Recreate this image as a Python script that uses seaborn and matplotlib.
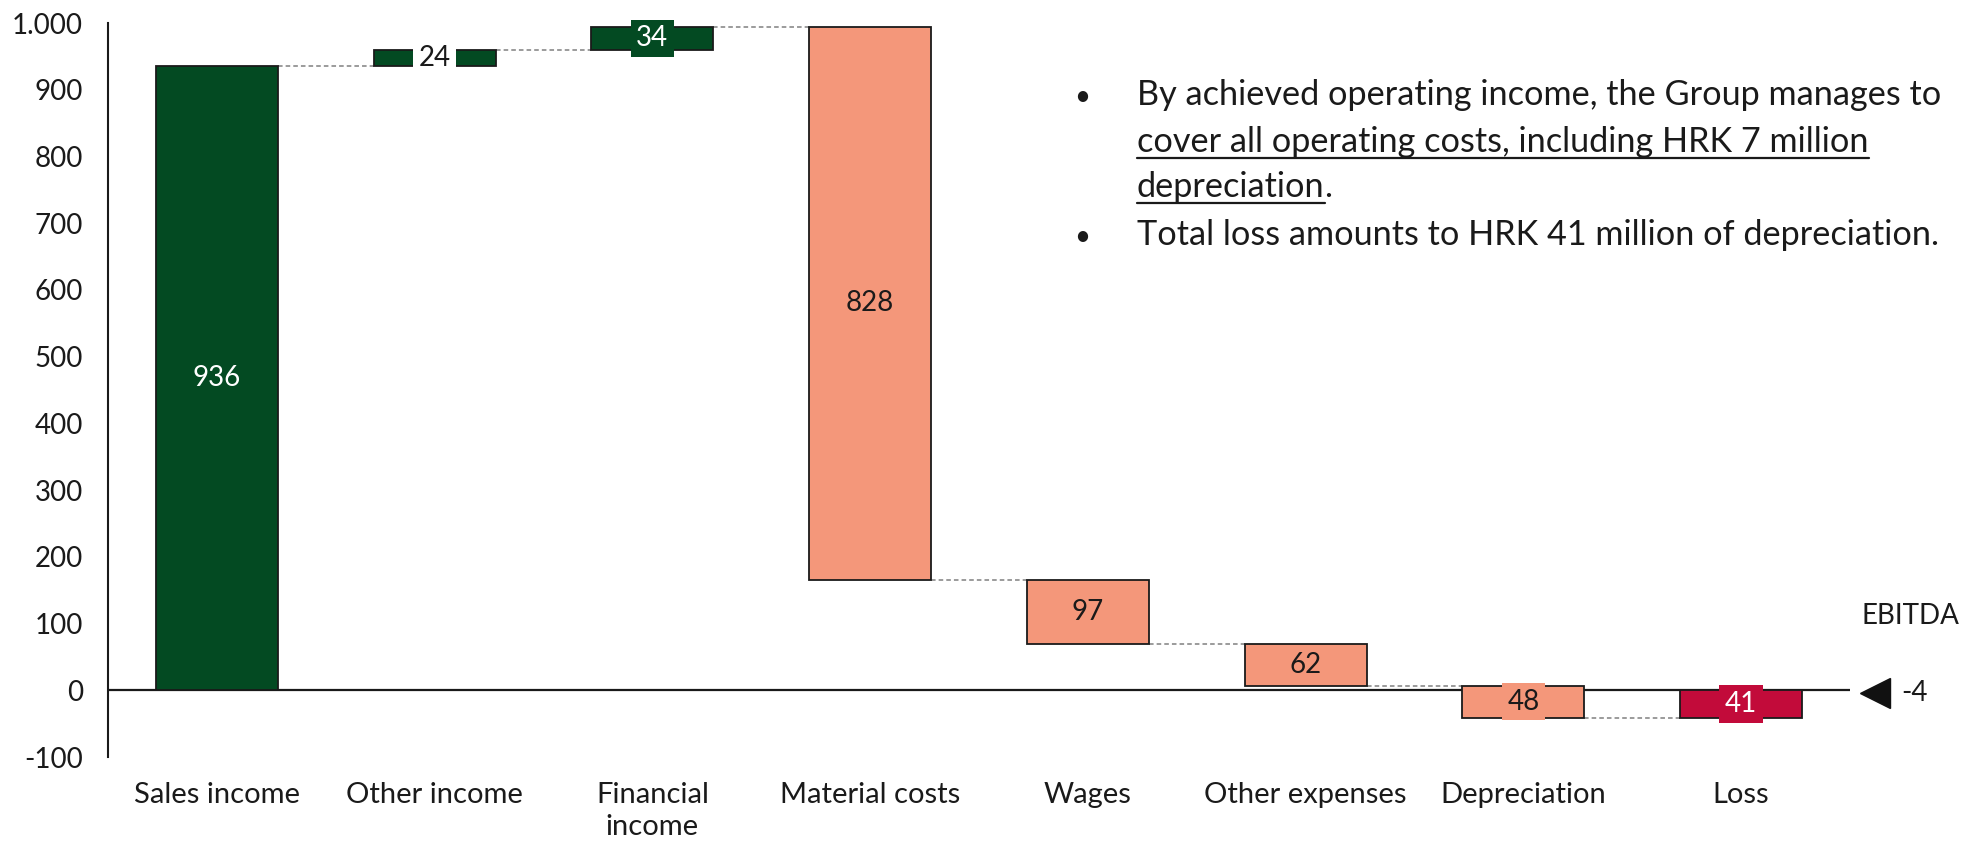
import numpy as np
import matplotlib
matplotlib.use("Agg")
import matplotlib.pyplot as plt
import seaborn as sns
from matplotlib.lines import Line2D
from matplotlib.ticker import FuncFormatter

# data
categories = ["Sales income", "Other income", "Financial\nincome", "Material costs",
              "Wages", "Other expenses", "Depreciation", "Loss"]
changes = [936, 24, 34, -828, -97, -62, -48, 41]
ebitda = -4

# styles
green = "#034a22"
salmon = "#f4977a"
crimson = "#c20b3a"
bar_colors = [green, green, green, salmon, salmon, salmon, salmon, crimson]
label_colors = ["white", "#1a1a1a", "white", "#1a1a1a", "#1a1a1a", "#1a1a1a", "#1a1a1a", "white"]
label_boxes = [None, "white", green, None, None, None, salmon, crimson]

bottoms = np.concatenate([[0], np.cumsum(changes)[:-1]])

sns.set_style("white")
plt.rcParams["font.family"] = ["Lato", "DejaVu Sans"]
FS = 20
TXT = "#1a1a1a"

W, H = 1975, 848
fig = plt.figure(figsize=(W / 100, H / 100), dpi=100)
ax = fig.add_axes([108 / W, 1 - 757 / H, (1850 - 108) / W, (757 - 23) / H])

bar_w = 0.56
sns.barplot(x=categories, y=changes, bottom=bottoms, width=bar_w, errorbar=None,
            color=green, saturation=1, edgecolor="#1a1a1a", linewidth=1.3, ax=ax, zorder=3)
for patch, c in zip(ax.patches, bar_colors):
    patch.set_facecolor(c)

ax.axhline(0, color="#1a1a1a", lw=1.6, zorder=1)

# connectors
for i in range(len(changes) - 1):
    level = bottoms[i] + changes[i]
    ax.plot([i + bar_w / 2, i + 1 - bar_w / 2], [level, level], ls=(0, (3, 2)),
            color="#808080", lw=1.1, zorder=2)

# value labels
for i, v in enumerate(changes):
    box = None
    if label_boxes[i] is not None:
        box = dict(boxstyle="square,pad=0.2", fc=label_boxes[i], ec="none")
    ax.text(i, bottoms[i] + v / 2, str(abs(v)), ha="center", va="center",
            color=label_colors[i], fontsize=FS, bbox=box, zorder=5)

ax.set_xlim(-0.5, len(categories) - 0.5)
ax.set_ylim(-100, 1000)
ax.set_yticks(np.arange(-100, 1001, 100))
ax.yaxis.set_major_formatter(FuncFormatter(lambda v, p: f"{v:,.0f}".replace(",", ".")))
ax.set_xlabel("")
ax.set_ylabel("")
for s in ["top", "right", "bottom"]:
    ax.spines[s].set_visible(False)
ax.spines["left"].set_bounds(-100, 1000)
ax.spines["left"].set_linewidth(1.5)
ax.spines["left"].set_color(TXT)
ax.tick_params(axis="y", length=8, width=1.1, color=TXT, pad=10, labelsize=FS, labelcolor=TXT)
ax.tick_params(axis="x", length=0, pad=18, labelsize=21, labelcolor=TXT)
for lab in ax.get_xticklabels():
    lab.set_linespacing(1.3)

# EBITDA marker
xm = len(categories) - 1 + 0.615
ax.plot([xm], [ebitda], marker="<", markersize=22, color="#111111", clip_on=False)
ax.text(xm + 0.12, ebitda, str(ebitda), ha="left", va="center", fontsize=FS, color=TXT, clip_on=False)
ax.text(xm - 0.06, 100, "EBITDA", ha="left", va="baseline", fontsize=FS, color=TXT, clip_on=False)

# bullet text
def fx(px):
    return px / W

def fy(py):
    return 1 - py / H

tx = 1137
bullet_x = 1082
lines = [
    (105, "By achieved operating income, the Group manages to", True),
    (152, "cover all operating costs, including HRK 7 million", False),
    (197, "depreciation", False),
    (245, "Total loss amounts to HRK 41 million of depreciation.", True),
]
texts = []
for y, s, bullet in lines:
    t = fig.text(fx(tx), fy(y), s, ha="left", va="baseline", fontsize=FS, color=TXT)
    texts.append(t)
    if bullet:
        fig.text(fx(bullet_x), fy(y), "\u2022", ha="center", va="baseline", fontsize=FS, color=TXT)

# fit the first line to the width it has in the slide (about 807 px)
fig.canvas.draw()
r = fig.canvas.get_renderer()
bfs = FS * 807 / texts[0].get_window_extent(r).width
for t in texts:
    t.set_fontsize(bfs)

fig.canvas.draw()
e3 = texts[2].get_window_extent(r)
fig.text(e3.x1 / W, fy(197), ".", ha="left", va="baseline", fontsize=bfs, color=TXT)
# underlines
for t, y in [(texts[1], 152), (texts[2], 197)]:
    e = t.get_window_extent(r)
    fig.add_artist(Line2D([e.x0 / W, e.x1 / W], [fy(y + 6), fy(y + 6)], color=TXT, lw=1.6,
                          transform=fig.transFigure))

fig.savefig("out.png", dpi=100)
